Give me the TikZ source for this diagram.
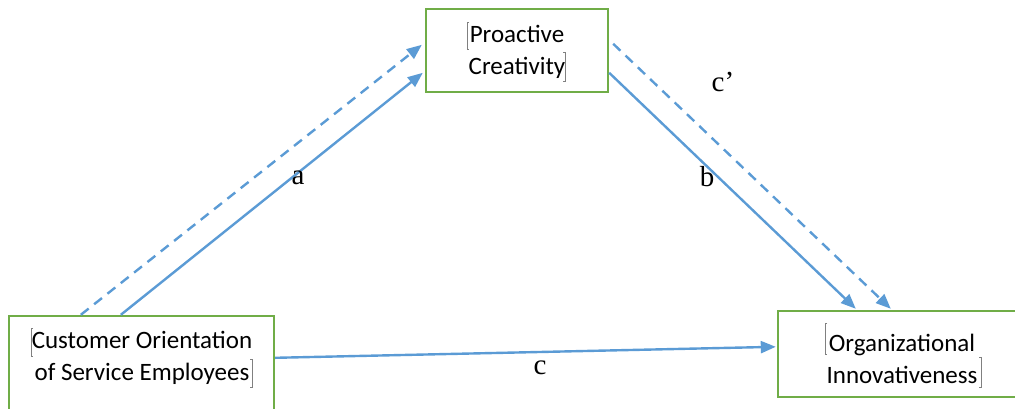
\documentclass[tikz,border=0pt]{standalone}
\usepackage{fontspec}
\setmainfont{Carlito}
\newfontfamily\labfont{Liberation Serif}
\usetikzlibrary{arrows.meta,calc}
\definecolor{boxgreen}{HTML}{70AD47}
\definecolor{arrblue}{HTML}{5B9BD5}
\definecolor{markgray}{HTML}{808080}
\begin{document}
\begin{tikzpicture}[x=1pt,y=-1pt,
  vbox/.style={draw=boxgreen,line width=2.4pt,inner sep=0pt,fill=white},
  boxtext/.style={align=center,font=\fontsize{25}{32}\selectfont,inner sep=0pt},
  conn/.style={draw=arrblue,line width=2.4pt,-{Triangle[length=15pt,width=12pt]}},
  dconn/.style={conn,dash pattern=on 10pt off 7pt},
  lab/.style={font=\labfont\fontsize{29}{30}\selectfont,inner sep=0pt},
  fmtmark/.style={draw=markgray,line width=0.6pt}]
\useasboundingbox (0,0) rectangle (1015,408);
% boxes
\node[vbox,minimum width=182pt,minimum height=83pt] (pc) at (517,50.5) {};
\node[vbox,minimum width=265pt,minimum height=114pt] (co) at (141.5,373) {};
\node[vbox,minimum width=248pt,minimum height=86pt] (oi) at (902,354) {};
% texts
\node[boxtext] (pct) at (517,52) {Proactive\\Creativity};
\node[boxtext] (cot) at (142,358) {Customer Orientation\\of Service Employees};
\node[boxtext] (oit) at (902,359) {Organizational\\Innovativeness};
% connectors
\draw[dconn] ($(co.north west)+(73,0)$) -- ($(pc.north west)+(-3,37)$);
\draw[conn] ($(co.north west)+(113,0)$) -- ($(pc.north west)+(-2,65)$);
\draw[conn] ($(pc.north east)+(0,65)$) -- ($(oi.north west)+(79,-1)$);
\draw[dconn] ($(pc.north east)+(4,36)$) -- ($(oi.north west)+(114,-1)$);
\draw[conn] ($(co.north east)+(0,43)$) -- ($(oi.north west)+(-1,37)$);
% labels
\node[lab] (la) at (298,178) {a};
\node[lab] (lb) at (707,177) {b};
\node[lab] (lcp) at (723,82) {c’};
\node[lab] (lc) at (540,368) {c};
% formatting marks
\draw[fmtmark] (469,22) -- (467,22) -- (467,49) -- (469,49);
\draw[fmtmark] (563,52) -- (565,52) -- (565,81) -- (563,81);
\draw[fmtmark] (33,328) -- (31,328) -- (31,356) -- (33,356);
\draw[fmtmark] (250,359) -- (252,359) -- (252,387) -- (250,387);
\draw[fmtmark] (827,323) -- (825,323) -- (825,354) -- (827,354);
\draw[fmtmark] (979,357) -- (981,357) -- (981,387) -- (979,387);
\end{tikzpicture}
\end{document}
